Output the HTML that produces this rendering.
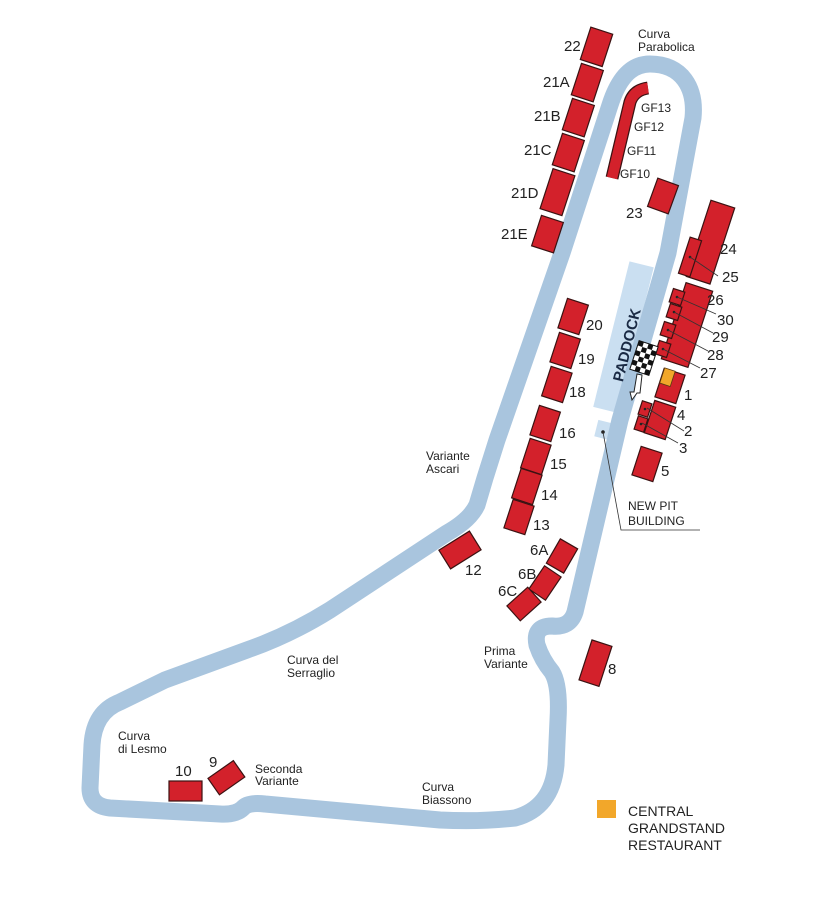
<!DOCTYPE html>
<html><head><meta charset="utf-8"><style>
html,body{margin:0;padding:0;background:#fff;}
svg{display:block;font-family:"Liberation Sans",sans-serif;}
.s{fill:#d3212b;stroke:#3b1212;stroke-width:1.2;}
.n{font-size:15px;fill:#222;}
.t{font-size:12px;fill:#222;}
.l{stroke:#333;stroke-width:0.8;fill:none;}
</style></head><body>
<svg width="830" height="900" viewBox="0 0 830 900" xmlns="http://www.w3.org/2000/svg">
<rect width="830" height="900" fill="#fff"/>
<!-- paddock -->
<rect x="611" y="262" width="25" height="150" fill="#cadff1" transform="rotate(14 623 337)"/>
<rect x="596" y="421" width="13" height="17" fill="#cadff1" transform="rotate(14 602 430)"/>
<!-- track -->
<path d="M 650 64 C 682 64 696 88 693 118 L 668 253 L 620 420 L 575 612 Q 570 628 552 626 Q 533 626 537 645 Q 542 660 552 672 Q 560 685 558 720 L 556 765 Q 552 808 515 818 Q 480 822 440 820 L 265 804 Q 248 802 243 808 Q 236 815 220 814 L 110 808 Q 90 806 90 788 L 92 745 Q 94 712 120 702 L 165 680 L 247 650 Q 290 635 330 610 L 447 533 Q 470 520 477 505 L 485 478 Q 490 462 497 440 L 562 253 L 610 105 C 618 80 630 64 650 64 Z" fill="none" stroke="#a9c5de" stroke-width="17" stroke-linejoin="round"/>
<text x="627" y="350" font-size="15" font-weight="bold" fill="#1a2a44" text-anchor="middle" transform="rotate(-76 627 345)">PADDOCK</text>
<!-- new pit line -->
<circle cx="603" cy="432" r="1.8" fill="#222"/>
<polyline class="l" points="603,432 621,530 700,530"/>
<text class="t" x="628" y="510" font-size="13">NEW PIT</text>
<text class="t" x="628" y="525" font-size="13">BUILDING</text>
<!-- left straight stands -->
<g class="s">
<rect x="585" y="30" width="23" height="34" transform="rotate(18 597 47)"/>
<rect x="576" y="66" width="23" height="33" transform="rotate(18 587 82)"/>
<rect x="567" y="101" width="23" height="33" transform="rotate(18 578 117)"/>
<rect x="557" y="136" width="23" height="33" transform="rotate(18 568 152)"/>
<rect x="546" y="171" width="23" height="42" transform="rotate(18 557 192)"/>
<rect x="536" y="218" width="23" height="32" transform="rotate(18 547 234)"/>
<rect x="652" y="181" width="22" height="30" transform="rotate(20 663 196)"/>
<rect x="562" y="301" width="22" height="31" transform="rotate(18 573 317)"/>
<rect x="554" y="335" width="22" height="31" transform="rotate(18 565 351)"/>
<rect x="546" y="369" width="22" height="31" transform="rotate(18 557 384)"/>
<rect x="534" y="408" width="22" height="31" transform="rotate(18 545 424)"/>
<rect x="525" y="441" width="22" height="31" transform="rotate(18 536 456)"/>
<rect x="516" y="471" width="22" height="31" transform="rotate(18 527 486)"/>
<rect x="508" y="502" width="22" height="30" transform="rotate(18 519 517)"/>
<rect x="442" y="539" width="36" height="22" transform="rotate(-32 460 550)"/>
<rect x="552" y="542" width="20" height="28" transform="rotate(30 562 556)"/>
<rect x="535" y="569" width="20" height="28" transform="rotate(34 545 583)"/>
<rect x="514" y="590" width="20" height="28" transform="rotate(48 524 604)"/>
<rect x="585" y="642" width="21" height="42" transform="rotate(18 595 663)"/>
<rect x="211" y="768" width="31" height="20" transform="rotate(-35 226 778)"/>
<rect x="169" y="781" width="33" height="20"/>
<!-- pit side -->
<rect x="698" y="202" width="25" height="80" transform="rotate(18 710 242)"/>
<rect x="684" y="238" width="12" height="38" transform="rotate(18 690 257)"/>
<rect x="673" y="285" width="28" height="80" transform="rotate(18 687 325)"/>
<rect x="671" y="290" width="12" height="14" transform="rotate(18 677 297)"/>
<rect x="668" y="305" width="12" height="14" transform="rotate(18 674 312)"/>
<rect x="662" y="323" width="12" height="14" transform="rotate(18 668 330)"/>
<rect x="657" y="342" width="12" height="14" transform="rotate(18 663 349)"/>
<rect x="659" y="371" width="22" height="30" transform="rotate(18 670 386)"/>
<rect x="649" y="403" width="22" height="34" transform="rotate(18 660 420)"/>
<rect x="640" y="402" width="10" height="14" transform="rotate(18 645 409)"/>
<rect x="636" y="417" width="10" height="14" transform="rotate(18 641 424)"/>
<rect x="636" y="449" width="22" height="30" transform="rotate(18 647 464)"/>
</g>
<rect x="662" y="369" width="11" height="16" fill="#f2a72a" stroke="#5a3a10" stroke-width="0.8" transform="rotate(18 667 377)"/>
<g fill="#222">
<circle cx="677" cy="297" r="1.3"/><circle cx="674" cy="312" r="1.3"/><circle cx="668" cy="330" r="1.3"/><circle cx="663" cy="349" r="1.3"/>
<circle cx="645" cy="409" r="1.3"/><circle cx="641" cy="424" r="1.3"/><circle cx="690" cy="257" r="1.3"/>
</g>
<!-- leaders -->
<g class="l">
<line x1="690" y1="257" x2="718" y2="276"/>
<line x1="677" y1="297" x2="716" y2="314"/>
<line x1="674" y1="312" x2="713" y2="333"/>
<line x1="668" y1="330" x2="708" y2="351"/>
<line x1="663" y1="349" x2="700" y2="368"/>
<line x1="647" y1="408" x2="684" y2="431"/>
<line x1="642" y1="423" x2="678" y2="443"/>
</g>
<!-- GF strip -->
<path d="M 612 178 L 630 102 Q 634 90 648 88" fill="none" stroke="#3b1212" stroke-width="13"/>
<path d="M 612 178 L 630 102 Q 634 90 648 88" fill="none" stroke="#d3212b" stroke-width="10.5"/>
<!-- flag -->
<g transform="rotate(18 644 358)">
<rect x="634" y="343" width="20" height="30" fill="#fff" stroke="#111" stroke-width="1"/>
<g fill="#111">
<rect x="634" y="343" width="5" height="5"/><rect x="644" y="343" width="5" height="5"/>
<rect x="639" y="348" width="5" height="5"/><rect x="649" y="348" width="5" height="5"/>
<rect x="634" y="353" width="5" height="5"/><rect x="644" y="353" width="5" height="5"/>
<rect x="639" y="358" width="5" height="5"/><rect x="649" y="358" width="5" height="5"/>
<rect x="634" y="363" width="5" height="5"/><rect x="644" y="363" width="5" height="5"/>
<rect x="639" y="368" width="5" height="5"/><rect x="649" y="368" width="5" height="5"/>
</g></g>
<path d="M 637 374 L 634 392 L 630 392 L 632 400 L 637 393 L 640 393 L 642 375 Z" fill="#fff" stroke="#222" stroke-width="1"/>
<!-- numbers -->
<g class="n">
<text x="564" y="51">22</text><text x="543" y="87">21A</text><text x="534" y="121">21B</text>
<text x="524" y="155">21C</text><text x="511" y="198">21D</text><text x="501" y="239">21E</text>
<text x="626" y="218">23</text><text x="720" y="254">24</text><text x="722" y="282">25</text>
<text x="707" y="305">26</text><text x="717" y="325">30</text><text x="712" y="342">29</text>
<text x="707" y="360">28</text><text x="700" y="378">27</text>
<text x="684" y="400">1</text><text x="677" y="420">4</text><text x="684" y="436">2</text><text x="679" y="453">3</text>
<text x="661" y="476">5</text>
<text x="586" y="330">20</text><text x="578" y="364">19</text><text x="569" y="397">18</text>
<text x="559" y="438">16</text><text x="550" y="469">15</text><text x="541" y="500">14</text><text x="533" y="530">13</text>
<text x="465" y="575">12</text><text x="530" y="555">6A</text><text x="518" y="579">6B</text><text x="498" y="596">6C</text>
<text x="608" y="674">8</text><text x="209" y="767">9</text><text x="175" y="776">10</text>
</g>
<g class="t" font-size="12.5">
<text x="641" y="112">GF13</text><text x="634" y="131">GF12</text><text x="627" y="155">GF11</text><text x="620" y="178">GF10</text>
</g>
<g class="t" font-size="11">
<text x="638" y="38">Curva</text><text x="638" y="51">Parabolica</text>
<text x="426" y="460">Variante</text><text x="426" y="473">Ascari</text>
<text x="484" y="655">Prima</text><text x="484" y="668">Variante</text>
<text x="287" y="664">Curva del</text><text x="287" y="677">Serraglio</text>
<text x="118" y="740">Curva</text><text x="118" y="753">di Lesmo</text>
<text x="255" y="773">Seconda</text><text x="255" y="785">Variante</text>
<text x="422" y="791">Curva</text><text x="422" y="804">Biassono</text>
</g>
<rect x="597" y="800" width="19" height="18" fill="#f2a72a"/>
<g font-size="14" fill="#222">
<text x="628" y="816">CENTRAL</text><text x="628" y="833">GRANDSTAND</text><text x="628" y="850">RESTAURANT</text>
</g>
</svg>
</body></html>
